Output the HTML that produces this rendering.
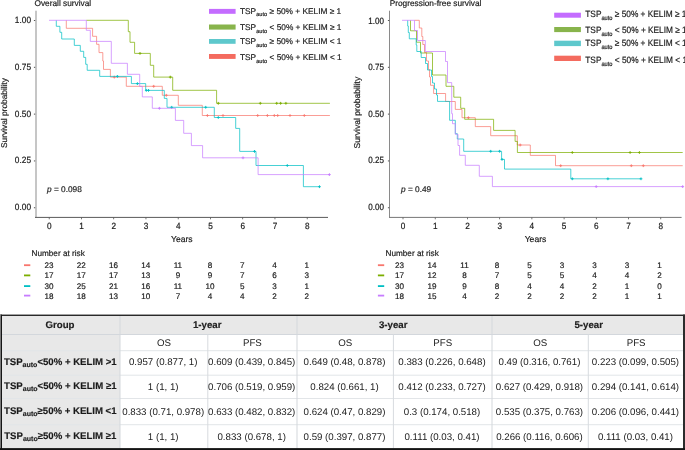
<!DOCTYPE html>
<html><head><meta charset="utf-8"><style>
html,body{margin:0;padding:0;background:#fff;overflow:hidden;}
svg{display:block;font-family:'Liberation Sans', sans-serif;will-change:transform;text-rendering:geometricPrecision;}
text{stroke:#1a1a1a;stroke-width:0.18px;}
.tbl text{stroke:none;}
.tbl text.b{stroke:#1a1a1a;stroke-width:0.15px;}
</style></head><body>
<svg width="685" height="450" viewBox="0 0 685 450">
<rect width="685" height="450" fill="#fff"/>
<text x="34.5" y="6.2" font-size="8.3" fill="#1a1a1a">Overall survival</text>
<rect x="35.0" y="10.7" width="2" height="206.8" fill="#c6c6c6"/>
<rect x="35.0" y="216.9" width="293.0" height="1" fill="#5a5a5a"/>
<rect x="33.9" y="20.0" width="1.3" height="0.9" fill="#444"/>
<text transform="translate(31.0,22.9) scale(1,1.100)" font-size="8.3" text-anchor="end" fill="#1a1a1a">1.00</text>
<rect x="33.9" y="66.83" width="1.3" height="0.9" fill="#444"/>
<text transform="translate(31.0,69.6) scale(1,1.100)" font-size="8.3" text-anchor="end" fill="#1a1a1a">0.75</text>
<rect x="33.9" y="113.66" width="1.3" height="0.9" fill="#444"/>
<text transform="translate(31.0,116.7) scale(1,1.100)" font-size="8.3" text-anchor="end" fill="#1a1a1a">0.50</text>
<rect x="33.9" y="160.49" width="1.3" height="0.9" fill="#444"/>
<text transform="translate(31.0,162.8) scale(1,1.100)" font-size="8.3" text-anchor="end" fill="#1a1a1a">0.25</text>
<rect x="33.9" y="207.32" width="1.3" height="0.9" fill="#444"/>
<text transform="translate(31.0,209.8) scale(1,1.100)" font-size="8.3" text-anchor="end" fill="#1a1a1a">0.00</text>
<rect x="48.800000000000004" y="217.5" width="0.8" height="1.8" fill="#555"/>
<text transform="translate(49.2,228.9) scale(1,1.1)" font-size="8.2" text-anchor="middle" fill="#1a1a1a">0</text>
<rect x="81.05" y="217.5" width="0.8" height="1.8" fill="#555"/>
<text transform="translate(81.45,228.9) scale(1,1.1)" font-size="8.2" text-anchor="middle" fill="#1a1a1a">1</text>
<rect x="113.3" y="217.5" width="0.8" height="1.8" fill="#555"/>
<text transform="translate(113.7,228.9) scale(1,1.1)" font-size="8.2" text-anchor="middle" fill="#1a1a1a">2</text>
<rect x="145.54999999999998" y="217.5" width="0.8" height="1.8" fill="#555"/>
<text transform="translate(145.95,228.9) scale(1,1.1)" font-size="8.2" text-anchor="middle" fill="#1a1a1a">3</text>
<rect x="177.79999999999998" y="217.5" width="0.8" height="1.8" fill="#555"/>
<text transform="translate(178.2,228.9) scale(1,1.1)" font-size="8.2" text-anchor="middle" fill="#1a1a1a">4</text>
<rect x="210.04999999999998" y="217.5" width="0.8" height="1.8" fill="#555"/>
<text transform="translate(210.45,228.9) scale(1,1.1)" font-size="8.2" text-anchor="middle" fill="#1a1a1a">5</text>
<rect x="242.29999999999998" y="217.5" width="0.8" height="1.8" fill="#555"/>
<text transform="translate(242.7,228.9) scale(1,1.1)" font-size="8.2" text-anchor="middle" fill="#1a1a1a">6</text>
<rect x="274.55" y="217.5" width="0.8" height="1.8" fill="#555"/>
<text transform="translate(274.95,228.9) scale(1,1.1)" font-size="8.2" text-anchor="middle" fill="#1a1a1a">7</text>
<rect x="306.8" y="217.5" width="0.8" height="1.8" fill="#555"/>
<text transform="translate(307.2,228.9) scale(1,1.1)" font-size="8.2" text-anchor="middle" fill="#1a1a1a">8</text>
<text x="181.82500000000002" y="241.5" font-size="8.6" text-anchor="middle" fill="#1a1a1a">Years</text>
<text transform="translate(7.0,113) rotate(-90)" font-size="8.35" text-anchor="middle" fill="#1a1a1a">Survival probability</text>
<text x="47" y="191.5" font-size="8.3" fill="#1a1a1a"><tspan font-style="italic">p</tspan> = 0.098</text>
<rect x="209" y="8.9" width="26.599999999999994" height="4.9" fill="#c46cff"/>
<text transform="translate(240,13.7) scale(1,1.0)" font-size="8.3" fill="#1a1a1a">TSP<tspan font-size="5.7" dy="2.6">auto</tspan><tspan dy="-2.6"> ≥ 50% + KELIM ≥ 1</tspan></text>
<rect x="209" y="24.5" width="26.599999999999994" height="5.100000000000001" fill="#88b44c"/>
<text transform="translate(240,30.2) scale(1,1.0)" font-size="8.3" fill="#1a1a1a">TSP<tspan font-size="5.7" dy="2.6">auto</tspan><tspan dy="-2.6"> &lt; 50% + KELIM ≥ 1</tspan></text>
<rect x="209" y="39" width="26.599999999999994" height="4.799999999999997" fill="#5ec8cc"/>
<text transform="translate(240,44.0) scale(1,1.0)" font-size="8.3" fill="#1a1a1a">TSP<tspan font-size="5.7" dy="2.6">auto</tspan><tspan dy="-2.6"> ≥ 50% + KELIM &lt; 1</tspan></text>
<rect x="209" y="54" width="26.599999999999994" height="4.899999999999999" fill="#f46b5f"/>
<text transform="translate(240,60.3) scale(1,1.0)" font-size="8.3" fill="#1a1a1a">TSP<tspan font-size="5.7" dy="2.6">auto</tspan><tspan dy="-2.6"> &lt; 50% + KELIM &lt; 1</tspan></text>
<text x="31.5" y="255.8" font-size="8.2" fill="#1a1a1a">Number at risk</text>
<rect x="24" y="264.3" width="6.3" height="1.8" fill="#F8766D"/>
<text x="49.1" y="268.09999999999997" font-size="8.1" text-anchor="middle" fill="#1a1a1a">23</text>
<text x="81.30000000000001" y="268.09999999999997" font-size="8.1" text-anchor="middle" fill="#1a1a1a">22</text>
<text x="113.5" y="268.09999999999997" font-size="8.1" text-anchor="middle" fill="#1a1a1a">16</text>
<text x="145.70000000000002" y="268.09999999999997" font-size="8.1" text-anchor="middle" fill="#1a1a1a">14</text>
<text x="177.9" y="268.09999999999997" font-size="8.1" text-anchor="middle" fill="#1a1a1a">11</text>
<text x="210.1" y="268.09999999999997" font-size="8.1" text-anchor="middle" fill="#1a1a1a">8</text>
<text x="242.3" y="268.09999999999997" font-size="8.1" text-anchor="middle" fill="#1a1a1a">7</text>
<text x="274.50000000000006" y="268.09999999999997" font-size="8.1" text-anchor="middle" fill="#1a1a1a">4</text>
<text x="306.70000000000005" y="268.09999999999997" font-size="8.1" text-anchor="middle" fill="#1a1a1a">1</text>
<rect x="24" y="274.5" width="6.3" height="1.8" fill="#7CAE00"/>
<text x="49.1" y="278.29999999999995" font-size="8.1" text-anchor="middle" fill="#1a1a1a">17</text>
<text x="81.30000000000001" y="278.29999999999995" font-size="8.1" text-anchor="middle" fill="#1a1a1a">17</text>
<text x="113.5" y="278.29999999999995" font-size="8.1" text-anchor="middle" fill="#1a1a1a">17</text>
<text x="145.70000000000002" y="278.29999999999995" font-size="8.1" text-anchor="middle" fill="#1a1a1a">13</text>
<text x="177.9" y="278.29999999999995" font-size="8.1" text-anchor="middle" fill="#1a1a1a">9</text>
<text x="210.1" y="278.29999999999995" font-size="8.1" text-anchor="middle" fill="#1a1a1a">9</text>
<text x="242.3" y="278.29999999999995" font-size="8.1" text-anchor="middle" fill="#1a1a1a">7</text>
<text x="274.50000000000006" y="278.29999999999995" font-size="8.1" text-anchor="middle" fill="#1a1a1a">6</text>
<text x="306.70000000000005" y="278.29999999999995" font-size="8.1" text-anchor="middle" fill="#1a1a1a">3</text>
<rect x="24" y="285.20000000000005" width="6.3" height="1.8" fill="#00BFC4"/>
<text x="49.1" y="289.0" font-size="8.1" text-anchor="middle" fill="#1a1a1a">30</text>
<text x="81.30000000000001" y="289.0" font-size="8.1" text-anchor="middle" fill="#1a1a1a">25</text>
<text x="113.5" y="289.0" font-size="8.1" text-anchor="middle" fill="#1a1a1a">21</text>
<text x="145.70000000000002" y="289.0" font-size="8.1" text-anchor="middle" fill="#1a1a1a">16</text>
<text x="177.9" y="289.0" font-size="8.1" text-anchor="middle" fill="#1a1a1a">11</text>
<text x="210.1" y="289.0" font-size="8.1" text-anchor="middle" fill="#1a1a1a">10</text>
<text x="242.3" y="289.0" font-size="8.1" text-anchor="middle" fill="#1a1a1a">5</text>
<text x="274.50000000000006" y="289.0" font-size="8.1" text-anchor="middle" fill="#1a1a1a">3</text>
<text x="306.70000000000005" y="289.0" font-size="8.1" text-anchor="middle" fill="#1a1a1a">1</text>
<rect x="24" y="294.70000000000005" width="6.3" height="1.8" fill="#C77CFF"/>
<text x="49.1" y="298.5" font-size="8.1" text-anchor="middle" fill="#1a1a1a">18</text>
<text x="81.30000000000001" y="298.5" font-size="8.1" text-anchor="middle" fill="#1a1a1a">18</text>
<text x="113.5" y="298.5" font-size="8.1" text-anchor="middle" fill="#1a1a1a">13</text>
<text x="145.70000000000002" y="298.5" font-size="8.1" text-anchor="middle" fill="#1a1a1a">10</text>
<text x="177.9" y="298.5" font-size="8.1" text-anchor="middle" fill="#1a1a1a">7</text>
<text x="210.1" y="298.5" font-size="8.1" text-anchor="middle" fill="#1a1a1a">4</text>
<text x="242.3" y="298.5" font-size="8.1" text-anchor="middle" fill="#1a1a1a">4</text>
<text x="274.50000000000006" y="298.5" font-size="8.1" text-anchor="middle" fill="#1a1a1a">2</text>
<text x="306.70000000000005" y="298.5" font-size="8.1" text-anchor="middle" fill="#1a1a1a">2</text>
<text x="389.7" y="6.2" font-size="8.3" fill="#1a1a1a">Progression-free survival</text>
<rect x="389.0" y="10.7" width="1" height="206.8" fill="#8a8a8a"/>
<rect x="389.0" y="216.9" width="292.6" height="1" fill="#777"/>
<rect x="387.9" y="20.0" width="1.3" height="0.9" fill="#444"/>
<text transform="translate(384.0,23.6) scale(1,1.134)" font-size="8.05" text-anchor="end" fill="#1a1a1a">1.00</text>
<rect x="387.9" y="66.83" width="1.3" height="0.9" fill="#444"/>
<text transform="translate(384.0,70.1) scale(1,1.134)" font-size="8.05" text-anchor="end" fill="#1a1a1a">0.75</text>
<rect x="387.9" y="113.66" width="1.3" height="0.9" fill="#444"/>
<text transform="translate(384.0,116.9) scale(1,1.134)" font-size="8.05" text-anchor="end" fill="#1a1a1a">0.50</text>
<rect x="387.9" y="160.49" width="1.3" height="0.9" fill="#444"/>
<text transform="translate(384.0,162.9) scale(1,1.134)" font-size="8.05" text-anchor="end" fill="#1a1a1a">0.25</text>
<rect x="387.9" y="207.32" width="1.3" height="0.9" fill="#444"/>
<text transform="translate(384.0,209.8) scale(1,1.134)" font-size="8.05" text-anchor="end" fill="#1a1a1a">0.00</text>
<rect x="402.6" y="217.5" width="0.8" height="1.8" fill="#555"/>
<text transform="translate(403.0,228.9) scale(1,1.1)" font-size="8.2" text-anchor="middle" fill="#1a1a1a">0</text>
<rect x="434.82000000000005" y="217.5" width="0.8" height="1.8" fill="#555"/>
<text transform="translate(435.22,228.9) scale(1,1.1)" font-size="8.2" text-anchor="middle" fill="#1a1a1a">1</text>
<rect x="467.04" y="217.5" width="0.8" height="1.8" fill="#555"/>
<text transform="translate(467.44,228.9) scale(1,1.1)" font-size="8.2" text-anchor="middle" fill="#1a1a1a">2</text>
<rect x="499.26" y="217.5" width="0.8" height="1.8" fill="#555"/>
<text transform="translate(499.65999999999997,228.9) scale(1,1.1)" font-size="8.2" text-anchor="middle" fill="#1a1a1a">3</text>
<rect x="531.48" y="217.5" width="0.8" height="1.8" fill="#555"/>
<text transform="translate(531.88,228.9) scale(1,1.1)" font-size="8.2" text-anchor="middle" fill="#1a1a1a">4</text>
<rect x="563.7" y="217.5" width="0.8" height="1.8" fill="#555"/>
<text transform="translate(564.1,228.9) scale(1,1.1)" font-size="8.2" text-anchor="middle" fill="#1a1a1a">5</text>
<rect x="595.92" y="217.5" width="0.8" height="1.8" fill="#555"/>
<text transform="translate(596.3199999999999,228.9) scale(1,1.1)" font-size="8.2" text-anchor="middle" fill="#1a1a1a">6</text>
<rect x="628.14" y="217.5" width="0.8" height="1.8" fill="#555"/>
<text transform="translate(628.54,228.9) scale(1,1.1)" font-size="8.2" text-anchor="middle" fill="#1a1a1a">7</text>
<rect x="660.36" y="217.5" width="0.8" height="1.8" fill="#555"/>
<text transform="translate(660.76,228.9) scale(1,1.1)" font-size="8.2" text-anchor="middle" fill="#1a1a1a">8</text>
<text x="535.502" y="241.5" font-size="8.6" text-anchor="middle" fill="#1a1a1a">Years</text>
<text transform="translate(359.7,112.6) rotate(-90)" font-size="8.55" text-anchor="middle" fill="#1a1a1a">Survival probability</text>
<text x="401" y="191.5" font-size="8.3" fill="#1a1a1a"><tspan font-style="italic">p</tspan> = 0.49</text>
<rect x="554.2" y="12.7" width="26.699999999999932" height="5.0" fill="#c46cff"/>
<text transform="translate(585.3,16.7) scale(1,1.1)" font-size="8.3" fill="#1a1a1a">TSP<tspan font-size="5.7" dy="3.0">auto</tspan><tspan dy="-3.0"> ≥ 50% + KELIM ≥ 1</tspan></text>
<rect x="554.2" y="27" width="26.699999999999932" height="5.100000000000001" fill="#88b44c"/>
<text transform="translate(585.3,33.0) scale(1,1.1)" font-size="8.3" fill="#1a1a1a">TSP<tspan font-size="5.7" dy="3.0">auto</tspan><tspan dy="-3.0"> &lt; 50% + KELIM ≥ 1</tspan></text>
<rect x="554.2" y="40.7" width="26.699999999999932" height="5.399999999999999" fill="#5ec8cc"/>
<text transform="translate(585.3,46.1) scale(1,1.1)" font-size="8.3" fill="#1a1a1a">TSP<tspan font-size="5.7" dy="3.0">auto</tspan><tspan dy="-3.0"> ≥ 50% + KELIM &lt; 1</tspan></text>
<rect x="554.2" y="55.7" width="26.699999999999932" height="5.299999999999997" fill="#f46b5f"/>
<text transform="translate(585.3,62.9) scale(1,1.1)" font-size="8.3" fill="#1a1a1a">TSP<tspan font-size="5.7" dy="3.0">auto</tspan><tspan dy="-3.0"> &lt; 50% + KELIM &lt; 1</tspan></text>
<text x="385.5" y="255.8" font-size="8.2" fill="#1a1a1a">Number at risk</text>
<rect x="377.9" y="264.3" width="6.3" height="1.8" fill="#F8766D"/>
<text x="399.5" y="268.09999999999997" font-size="8.1" text-anchor="middle" fill="#1a1a1a">23</text>
<text x="432.0" y="268.09999999999997" font-size="8.1" text-anchor="middle" fill="#1a1a1a">14</text>
<text x="464.5" y="268.09999999999997" font-size="8.1" text-anchor="middle" fill="#1a1a1a">11</text>
<text x="497.0" y="268.09999999999997" font-size="8.1" text-anchor="middle" fill="#1a1a1a">8</text>
<text x="529.5" y="268.09999999999997" font-size="8.1" text-anchor="middle" fill="#1a1a1a">5</text>
<text x="562.0" y="268.09999999999997" font-size="8.1" text-anchor="middle" fill="#1a1a1a">3</text>
<text x="594.5" y="268.09999999999997" font-size="8.1" text-anchor="middle" fill="#1a1a1a">3</text>
<text x="627.0" y="268.09999999999997" font-size="8.1" text-anchor="middle" fill="#1a1a1a">3</text>
<text x="659.5" y="268.09999999999997" font-size="8.1" text-anchor="middle" fill="#1a1a1a">1</text>
<rect x="377.9" y="274.5" width="6.3" height="1.8" fill="#7CAE00"/>
<text x="399.5" y="278.29999999999995" font-size="8.1" text-anchor="middle" fill="#1a1a1a">17</text>
<text x="432.0" y="278.29999999999995" font-size="8.1" text-anchor="middle" fill="#1a1a1a">12</text>
<text x="464.5" y="278.29999999999995" font-size="8.1" text-anchor="middle" fill="#1a1a1a">8</text>
<text x="497.0" y="278.29999999999995" font-size="8.1" text-anchor="middle" fill="#1a1a1a">7</text>
<text x="529.5" y="278.29999999999995" font-size="8.1" text-anchor="middle" fill="#1a1a1a">5</text>
<text x="562.0" y="278.29999999999995" font-size="8.1" text-anchor="middle" fill="#1a1a1a">5</text>
<text x="594.5" y="278.29999999999995" font-size="8.1" text-anchor="middle" fill="#1a1a1a">4</text>
<text x="627.0" y="278.29999999999995" font-size="8.1" text-anchor="middle" fill="#1a1a1a">4</text>
<text x="659.5" y="278.29999999999995" font-size="8.1" text-anchor="middle" fill="#1a1a1a">2</text>
<rect x="377.9" y="285.20000000000005" width="6.3" height="1.8" fill="#00BFC4"/>
<text x="399.5" y="289.0" font-size="8.1" text-anchor="middle" fill="#1a1a1a">30</text>
<text x="432.0" y="289.0" font-size="8.1" text-anchor="middle" fill="#1a1a1a">19</text>
<text x="464.5" y="289.0" font-size="8.1" text-anchor="middle" fill="#1a1a1a">9</text>
<text x="497.0" y="289.0" font-size="8.1" text-anchor="middle" fill="#1a1a1a">8</text>
<text x="529.5" y="289.0" font-size="8.1" text-anchor="middle" fill="#1a1a1a">4</text>
<text x="562.0" y="289.0" font-size="8.1" text-anchor="middle" fill="#1a1a1a">4</text>
<text x="594.5" y="289.0" font-size="8.1" text-anchor="middle" fill="#1a1a1a">2</text>
<text x="627.0" y="289.0" font-size="8.1" text-anchor="middle" fill="#1a1a1a">1</text>
<text x="659.5" y="289.0" font-size="8.1" text-anchor="middle" fill="#1a1a1a">0</text>
<rect x="377.9" y="294.70000000000005" width="6.3" height="1.8" fill="#C77CFF"/>
<text x="399.5" y="298.5" font-size="8.1" text-anchor="middle" fill="#1a1a1a">18</text>
<text x="432.0" y="298.5" font-size="8.1" text-anchor="middle" fill="#1a1a1a">15</text>
<text x="464.5" y="298.5" font-size="8.1" text-anchor="middle" fill="#1a1a1a">4</text>
<text x="497.0" y="298.5" font-size="8.1" text-anchor="middle" fill="#1a1a1a">2</text>
<text x="529.5" y="298.5" font-size="8.1" text-anchor="middle" fill="#1a1a1a">2</text>
<text x="562.0" y="298.5" font-size="8.1" text-anchor="middle" fill="#1a1a1a">2</text>
<text x="594.5" y="298.5" font-size="8.1" text-anchor="middle" fill="#1a1a1a">2</text>
<text x="627.0" y="298.5" font-size="8.1" text-anchor="middle" fill="#1a1a1a">1</text>
<text x="659.5" y="298.5" font-size="8.1" text-anchor="middle" fill="#1a1a1a">1</text>
<g>
<path d="M66.3,20.3 V28.3 H92.6 V36.3 H96.6 V44.3 H99 V52.6 H102.8 V61 H103.5 V69.4 H110.4 V77.1 H126.3 V86.3 H162.3 V95.3 H178.3 V105.3 H202.3 V115.5 H329.9" fill="none" stroke="#F8766D" stroke-width="0.72" stroke-linejoin="miter"/>
<path d="M114.3,75.69999999999999V78.5M112.89999999999999,77.1H115.7" stroke="#F8766D" stroke-width="0.9" fill="none"/>
<path d="M153.7,84.89999999999999V87.7M152.29999999999998,86.3H155.1" stroke="#F8766D" stroke-width="0.9" fill="none"/>
<path d="M166.3,93.89999999999999V96.7M164.9,95.3H167.70000000000002" stroke="#F8766D" stroke-width="0.9" fill="none"/>
<path d="M207.4,114.1V116.9M206.0,115.5H208.8" stroke="#F8766D" stroke-width="0.9" fill="none"/>
<path d="M223,114.1V116.9M221.6,115.5H224.4" stroke="#F8766D" stroke-width="0.9" fill="none"/>
<path d="M257.7,114.1V116.9M256.3,115.5H259.09999999999997" stroke="#F8766D" stroke-width="0.9" fill="none"/>
<path d="M267.4,114.1V116.9M266.0,115.5H268.79999999999995" stroke="#F8766D" stroke-width="0.9" fill="none"/>
<path d="M274.3,114.1V116.9M272.90000000000003,115.5H275.7" stroke="#F8766D" stroke-width="0.9" fill="none"/>
<path d="M277.7,114.1V116.9M276.3,115.5H279.09999999999997" stroke="#F8766D" stroke-width="0.9" fill="none"/>
<path d="M290,114.1V116.9M288.6,115.5H291.4" stroke="#F8766D" stroke-width="0.9" fill="none"/>
<path d="M304.3,114.1V116.9M302.90000000000003,115.5H305.7" stroke="#F8766D" stroke-width="0.9" fill="none"/>
<path d="M86.3,20.3 H128.3 V31.7 H130 V42.3 H134.6 V53.4 H150.3 V65.3 H153.7 V77.1 H172.7 V90.3 H216.6 V103.3 H329.9" fill="none" stroke="#7CAE00" stroke-width="0.72" stroke-linejoin="miter"/>
<path d="M140,52.0V54.8M138.6,53.4H141.4" stroke="#7CAE00" stroke-width="0.9" fill="none"/>
<path d="M170.3,75.69999999999999V78.5M168.9,77.1H171.70000000000002" stroke="#7CAE00" stroke-width="0.9" fill="none"/>
<path d="M218.3,101.89999999999999V104.7M216.9,103.3H219.70000000000002" stroke="#7CAE00" stroke-width="0.9" fill="none"/>
<path d="M260.3,101.89999999999999V104.7M258.90000000000003,103.3H261.7" stroke="#7CAE00" stroke-width="0.9" fill="none"/>
<path d="M276.7,101.89999999999999V104.7M275.3,103.3H278.09999999999997" stroke="#7CAE00" stroke-width="0.9" fill="none"/>
<path d="M280.6,101.89999999999999V104.7M279.20000000000005,103.3H282.0" stroke="#7CAE00" stroke-width="0.9" fill="none"/>
<path d="M285.9,101.89999999999999V104.7M284.5,103.3H287.29999999999995" stroke="#7CAE00" stroke-width="0.9" fill="none"/>
<path d="M56.3,20.3 V26.3 H59.9 V32.3 H61.7 V39 H74.3 V45.4 H80.3 V51.3 H83.7 V57.4 H85.7 V64.3 H87.2 V70.3 H99.7 V76.4 H131.4 V83.6 H145.7 V90.4 H164.3 V98.4 H167 V107.3 H214.3 V117.5 H235.7 V128.4 H239.7 V151.4 H256 V165.5 H303.4 V186.7 H319.5" fill="none" stroke="#00BFC4" stroke-width="0.72" stroke-linejoin="miter"/>
<path d="M117.4,75.0V77.80000000000001M116.0,76.4H118.80000000000001" stroke="#00BFC4" stroke-width="0.9" fill="none"/>
<path d="M137.4,82.19999999999999V85.0M136.0,83.6H138.8" stroke="#00BFC4" stroke-width="0.9" fill="none"/>
<path d="M146.3,89.0V91.80000000000001M144.9,90.4H147.70000000000002" stroke="#00BFC4" stroke-width="0.9" fill="none"/>
<path d="M148.5,89.0V91.80000000000001M147.1,90.4H149.9" stroke="#00BFC4" stroke-width="0.9" fill="none"/>
<path d="M171.7,105.89999999999999V108.7M170.29999999999998,107.3H173.1" stroke="#00BFC4" stroke-width="0.9" fill="none"/>
<path d="M205.7,105.89999999999999V108.7M204.29999999999998,107.3H207.1" stroke="#00BFC4" stroke-width="0.9" fill="none"/>
<path d="M218.3,116.1V118.9M216.9,117.5H219.70000000000002" stroke="#00BFC4" stroke-width="0.9" fill="none"/>
<path d="M254.5,150.0V152.8M253.1,151.4H255.9" stroke="#00BFC4" stroke-width="0.9" fill="none"/>
<path d="M287.3,164.1V166.9M285.90000000000003,165.5H288.7" stroke="#00BFC4" stroke-width="0.9" fill="none"/>
<path d="M319.5,185.29999999999998V188.1M318.1,186.7H320.9" stroke="#00BFC4" stroke-width="0.9" fill="none"/>
<path d="M49,20.3 H86.3 V30.3 H90.3 V41.4 H111.3 V63.3 H127.4 V74.3 H139.7 V86.4 H142.3 V96.9 H152.3 V108.3 H175.4 V120.4 H183.7 V133.3 H191.4 V145.6 H202.6 V157.8 H258.1 V174.6 H329.4" fill="none" stroke="#C77CFF" stroke-width="0.72" stroke-linejoin="miter"/>
<path d="M159.4,106.89999999999999V109.7M158.0,108.3H160.8" stroke="#C77CFF" stroke-width="0.9" fill="none"/>
<path d="M243,156.4V159.20000000000002M241.6,157.8H244.4" stroke="#C77CFF" stroke-width="0.9" fill="none"/>
<path d="M329.4,173.2V176.0M328.0,174.6H330.79999999999995" stroke="#C77CFF" stroke-width="0.9" fill="none"/>
<path d="M414.5,20.3 H419.3 V28 H421.8 V36.5 H422.8 V44.5 H424.5 V52.5 H426.5 V61 H428.5 V69.5 H429.5 V77 H430.5 V85.3 H433.6 V93.5 H445.6 V101.5 H455.3 V109.4 H462 V117.7 H475.3 V126.6 H490.7 V135.7 H517.3 V145 H530.3 V155.4 H555.5 V165.7 H682.7" fill="none" stroke="#F8766D" stroke-width="0.72" stroke-linejoin="miter"/>
<path d="M468.4,116.3V119.10000000000001M467.0,117.7H469.79999999999995" stroke="#F8766D" stroke-width="0.9" fill="none"/>
<path d="M520.2,143.6V146.4M518.8000000000001,145H521.6" stroke="#F8766D" stroke-width="0.9" fill="none"/>
<path d="M560.7,164.29999999999998V167.1M559.3000000000001,165.7H562.1" stroke="#F8766D" stroke-width="0.9" fill="none"/>
<path d="M631.3,164.29999999999998V167.1M629.9,165.7H632.6999999999999" stroke="#F8766D" stroke-width="0.9" fill="none"/>
<path d="M643.3,164.29999999999998V167.1M641.9,165.7H644.6999999999999" stroke="#F8766D" stroke-width="0.9" fill="none"/>
<path d="M410.5,20.3 V30.8 H416.5 V42.2 H420.5 V53 H432.5 V75 H446 V86.3 H453.8 V97.2 H460.7 V108.3 H464.7 V119.3 H493.6 V130.4 H515.1 V141.4 H517.4 V152.5 H682.7" fill="none" stroke="#7CAE00" stroke-width="0.72" stroke-linejoin="miter"/>
<path d="M572.3,151.1V153.9M570.9,152.5H573.6999999999999" stroke="#7CAE00" stroke-width="0.9" fill="none"/>
<path d="M630.1,151.1V153.9M628.7,152.5H631.5" stroke="#7CAE00" stroke-width="0.9" fill="none"/>
<path d="M639.4,151.1V153.9M638.0,152.5H640.8" stroke="#7CAE00" stroke-width="0.9" fill="none"/>
<path d="M407.7,20.3 V26 H408.3 V32.5 H409.3 V38.8 H416.2 V45 H416.8 V51.5 H421.2 V57.5 H425.5 V63.5 H427.5 V70 H431.5 V76.5 H432.5 V83 H434.5 V89 H436.5 V95 H437.5 V101.4 H449.6 V120.3 H455.3 V133.7 H457.3 V139 H463.7 V151.3 H501.6 V159.4 H504.5 V169.1 H570.8 V178.8 H641" fill="none" stroke="#00BFC4" stroke-width="0.72" stroke-linejoin="miter"/>
<path d="M490.7,149.9V152.70000000000002M489.3,151.3H492.09999999999997" stroke="#00BFC4" stroke-width="0.9" fill="none"/>
<path d="M499.6,149.9V152.70000000000002M498.20000000000005,151.3H501.0" stroke="#00BFC4" stroke-width="0.9" fill="none"/>
<path d="M502,158.0V160.8M500.6,159.4H503.4" stroke="#00BFC4" stroke-width="0.9" fill="none"/>
<path d="M572.3,177.4V180.20000000000002M570.9,178.8H573.6999999999999" stroke="#00BFC4" stroke-width="0.9" fill="none"/>
<path d="M607.9,177.4V180.20000000000002M606.5,178.8H609.3" stroke="#00BFC4" stroke-width="0.9" fill="none"/>
<path d="M641,177.4V180.20000000000002M639.6,178.8H642.4" stroke="#00BFC4" stroke-width="0.9" fill="none"/>
<path d="M402,20.3 H414.5 V30.5 H417.5 V40.5 H425.3 V51.5 H445.5 V61.5 H447.5 V82.6 H451.7 V113.7 H452.5 V123.7 H455.3 V134.3 H458 V145.5 H459.6 V155.3 H465.3 V165.3 H479.3 V176.3 H492.4 V186.6 H682.7" fill="none" stroke="#C77CFF" stroke-width="0.72" stroke-linejoin="miter"/>
<path d="M596.2,185.2V188.0M594.8000000000001,186.6H597.6" stroke="#C77CFF" stroke-width="0.9" fill="none"/>
<path d="M682.7,185.2V188.0M681.3000000000001,186.6H684.1" stroke="#C77CFF" stroke-width="0.9" fill="none"/>
</g>
<g class="tbl">
<rect x="1" y="315" width="683" height="133.5" fill="#fff"/>
<rect x="1" y="315" width="683" height="19.5" fill="#e8e8e8"/>
<rect x="1" y="315" width="119" height="133.5" fill="#e8e8e8"/>
<rect x="1" y="334.0" width="683" height="1" fill="#d3d7dc"/>
<rect x="1" y="350.2" width="683" height="1" fill="#e2e5e8"/>
<rect x="1" y="374.7" width="683" height="1" fill="#e2e5e8"/>
<rect x="1" y="398.0" width="683" height="1" fill="#e2e5e8"/>
<rect x="1" y="424.2" width="683" height="1" fill="#e2e5e8"/>
<rect x="119.5" y="315" width="1" height="133.5" fill="#d3d7dc"/>
<rect x="296.5" y="315" width="1" height="133.5" fill="#d3d7dc"/>
<rect x="491.5" y="315" width="1" height="133.5" fill="#d3d7dc"/>
<rect x="207.3" y="334.5" width="1" height="114.0" fill="#d8dbdf"/>
<rect x="392.9" y="334.5" width="1" height="114.0" fill="#d8dbdf"/>
<rect x="587.8" y="334.5" width="1" height="114.0" fill="#d8dbdf"/>
<rect x="0" y="314.6" width="685" height="1.3" fill="#141414"/>
<rect x="0" y="314.6" width="1" height="135.4" fill="#7a7a7a"/>
<rect x="1" y="314.6" width="1" height="135.4" fill="#151515"/>
<rect x="683" y="314.6" width="2" height="135.4" fill="#2c2c2c"/>
<rect x="0" y="448.1" width="685" height="1.9" fill="#141414"/>
<text x="60.0" y="327.6" font-size="9.7" text-anchor="middle" fill="#222" font-weight="bold" class="b">Group</text>
<text x="207.2" y="327.6" font-size="9.7" text-anchor="middle" fill="#222" font-weight="bold" class="b">1-year</text>
<text x="393.2" y="327.6" font-size="9.7" text-anchor="middle" fill="#222" font-weight="bold" class="b">3-year</text>
<text x="588.7" y="327.6" font-size="9.7" text-anchor="middle" fill="#222" font-weight="bold" class="b">5-year</text>
<text x="163.9" y="346.3" font-size="9.7" text-anchor="middle" fill="#222">OS</text>
<text x="252.4" y="346.3" font-size="9.7" text-anchor="middle" fill="#222">PFS</text>
<text x="345.2" y="346.3" font-size="9.7" text-anchor="middle" fill="#222">OS</text>
<text x="442.7" y="346.3" font-size="9.7" text-anchor="middle" fill="#222">PFS</text>
<text x="540.15" y="346.3" font-size="9.7" text-anchor="middle" fill="#222">OS</text>
<text x="636.15" y="346.3" font-size="9.7" text-anchor="middle" fill="#222">PFS</text>
<text class="b" x="60.3" y="364.95" font-size="9.62" text-anchor="middle" fill="#1a1a1a" font-weight="bold">TSP<tspan font-size="7" dy="2.3">auto</tspan><tspan dy="-2.3">&lt;50% + KELIM &gt;1</tspan></text>
<text x="163.20000000000002" y="365.15" font-size="9.7" text-anchor="middle" fill="#222">0.957 (0.877, 1)</text>
<text x="251.70000000000002" y="365.15" font-size="9.7" text-anchor="middle" fill="#222">0.609 (0.439, 0.845)</text>
<text x="344.5" y="365.15" font-size="9.7" text-anchor="middle" fill="#222">0.649 (0.48, 0.878)</text>
<text x="442.0" y="365.15" font-size="9.7" text-anchor="middle" fill="#222">0.383 (0.226, 0.648)</text>
<text x="539.4499999999999" y="365.15" font-size="9.7" text-anchor="middle" fill="#222">0.49 (0.316, 0.761)</text>
<text x="635.4499999999999" y="365.15" font-size="9.7" text-anchor="middle" fill="#222">0.223 (0.099, 0.505)</text>
<text class="b" x="60.3" y="388.85" font-size="9.62" text-anchor="middle" fill="#1a1a1a" font-weight="bold">TSP<tspan font-size="7" dy="2.3">auto</tspan><tspan dy="-2.3">&lt;50% + KELIM ≥1</tspan></text>
<text x="163.20000000000002" y="389.85" font-size="9.7" text-anchor="middle" fill="#222">1 (1, 1)</text>
<text x="251.70000000000002" y="389.85" font-size="9.7" text-anchor="middle" fill="#222">0.706 (0.519, 0.959)</text>
<text x="344.5" y="389.85" font-size="9.7" text-anchor="middle" fill="#222">0.824 (0.661, 1)</text>
<text x="442.0" y="389.85" font-size="9.7" text-anchor="middle" fill="#222">0.412 (0.233, 0.727)</text>
<text x="539.4499999999999" y="389.85" font-size="9.7" text-anchor="middle" fill="#222">0.627 (0.429, 0.918)</text>
<text x="635.4499999999999" y="389.85" font-size="9.7" text-anchor="middle" fill="#222">0.294 (0.141, 0.614)</text>
<text class="b" x="60.3" y="413.6" font-size="9.62" text-anchor="middle" fill="#1a1a1a" font-weight="bold">TSP<tspan font-size="7" dy="2.3">auto</tspan><tspan dy="-2.3">≥50% + KELIM &lt;1</tspan></text>
<text x="163.20000000000002" y="414.6" font-size="9.7" text-anchor="middle" fill="#222">0.833 (0.71, 0.978)</text>
<text x="251.70000000000002" y="414.6" font-size="9.7" text-anchor="middle" fill="#222">0.633 (0.482, 0.832)</text>
<text x="344.5" y="414.6" font-size="9.7" text-anchor="middle" fill="#222">0.624 (0.47, 0.829)</text>
<text x="442.0" y="414.6" font-size="9.7" text-anchor="middle" fill="#222">0.3 (0.174, 0.518)</text>
<text x="539.4499999999999" y="414.6" font-size="9.7" text-anchor="middle" fill="#222">0.535 (0.375, 0.763)</text>
<text x="635.4499999999999" y="414.6" font-size="9.7" text-anchor="middle" fill="#222">0.206 (0.096, 0.441)</text>
<text class="b" x="60.3" y="438.6" font-size="9.62" text-anchor="middle" fill="#1a1a1a" font-weight="bold">TSP<tspan font-size="7" dy="2.3">auto</tspan><tspan dy="-2.3">≥50% + KELIM ≥1</tspan></text>
<text x="163.20000000000002" y="439.6" font-size="9.7" text-anchor="middle" fill="#222">1 (1, 1)</text>
<text x="251.70000000000002" y="439.6" font-size="9.7" text-anchor="middle" fill="#222">0.833 (0.678, 1)</text>
<text x="344.5" y="439.6" font-size="9.7" text-anchor="middle" fill="#222">0.59 (0.397, 0.877)</text>
<text x="442.0" y="439.6" font-size="9.7" text-anchor="middle" fill="#222">0.111 (0.03, 0.41)</text>
<text x="539.4499999999999" y="439.6" font-size="9.7" text-anchor="middle" fill="#222">0.266 (0.116, 0.606)</text>
<text x="635.4499999999999" y="439.6" font-size="9.7" text-anchor="middle" fill="#222">0.111 (0.03, 0.41)</text>
</g>
</svg>
</body></html>
